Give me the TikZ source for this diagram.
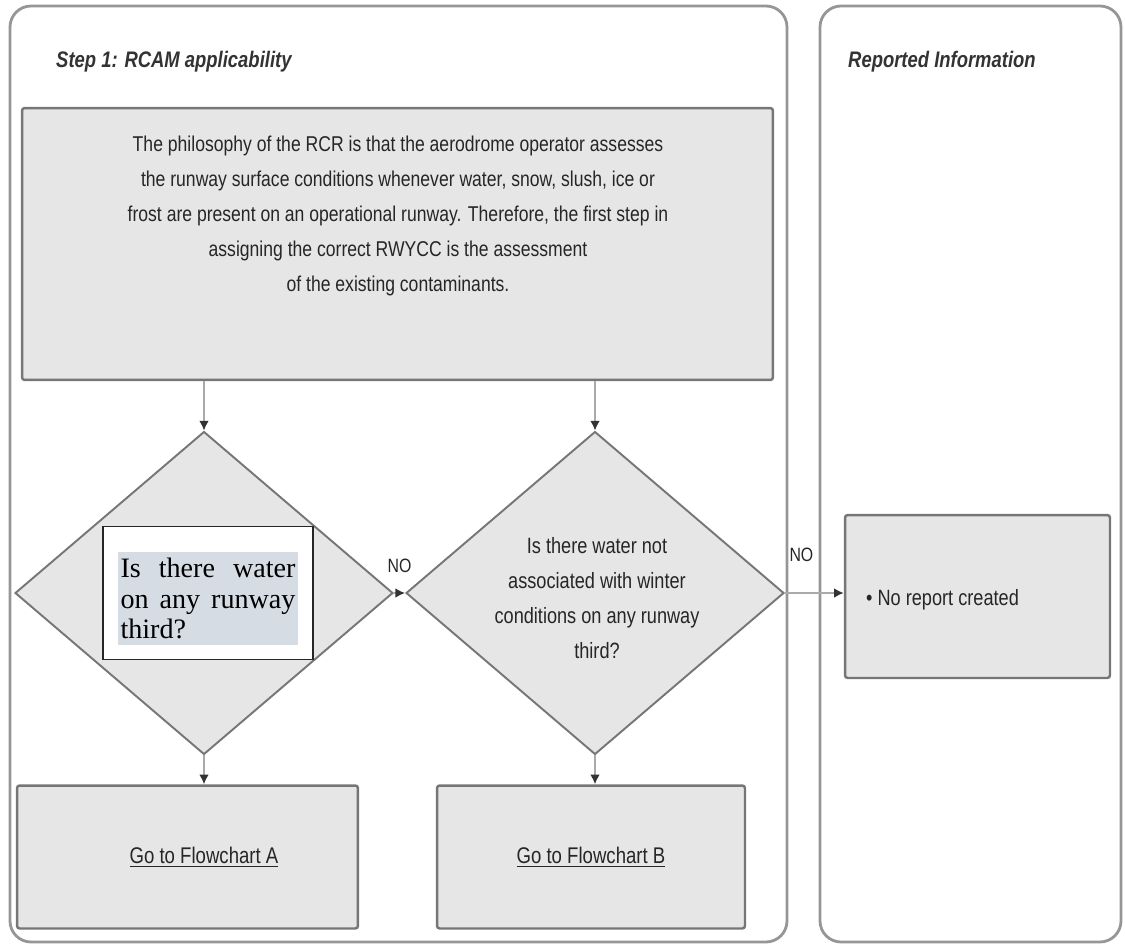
\documentclass[tikz,border=0pt]{standalone}
\usepackage{fontspec}
\setmainfont{Liberation Serif}
\setsansfont[FakeStretch=0.82]{Liberation Sans}
\usetikzlibrary{arrows.meta,positioning,shapes.geometric}
\definecolor{boxfill}{RGB}{230,230,230}
\definecolor{boxline}{RGB}{118,118,118}
\definecolor{panelline}{RGB}{150,150,150}
\definecolor{arrowgray}{RGB}{170,170,170}
\definecolor{hilite}{RGB}{214,220,228}
\tikzset{
  panel/.style={draw=panelline, rounded corners=12pt, line width=1.6pt},
  box/.style={draw=boxline, fill=boxfill, line width=1.4pt, rounded corners=1.5pt, inner sep=0pt},
  decision/.style={diamond, draw=boxline, fill=boxfill, line width=1.1pt, inner sep=0pt,
    minimum width=7.56cm, minimum height=6.46cm},
  flow/.style={draw=arrowgray, line width=1pt, -{Latex[length=5.5pt,width=5.5pt,color=black!80]}},
  txt/.style={font=\sffamily\fontsize{12.2}{20}\selectfont, align=center, text=black!85},
  bigtxt/.style={font=\sffamily\fontsize{12.9}{20}\selectfont, align=center, text=black!85},
  heading/.style={font=\sffamily\bfseries\itshape\fontsize{12.8}{14}\selectfont, anchor=west, text=black!80},
  nolabel/.style={font=\sffamily\fontsize{11}{12}\selectfont, text=black!85}
}
\begin{document}
\begin{tikzpicture}[x=0.02cm, y=-0.02cm]
  \useasboundingbox (0,0) rectangle (1125,946);
  % panels
  \draw[panel] (10,6) rectangle (787,942);
  \draw[panel] (820,6) rectangle (1121,942);
  \node[heading] (stepHead) at (50,62) {Step 1: RCAM applicability};
  \node[heading] (repHead) at (842,62) {Reported Information};
  % boxes
  \node[box, minimum width=15.02cm, minimum height=5.44cm] (philo) at (397.5,244) {};
  \node[txt] (philoText) at (398,216) {The philosophy of the RCR is that the aerodrome operator assesses\\
    the runway surface conditions whenever water, snow, slush, ice or\\
    frost are present on an operational runway. Therefore, the first step in\\
    assigning the correct RWYCC is the assessment\\
    of the existing contaminants.};
  \node[decision] (water) at (204,593) {};
  \node[decision] (winter) at (595,593) {};
  \node[bigtxt, font=\sffamily\fontsize{12.6}{19.8}\selectfont] (winterText) at (597,598)
    {Is there water not\\ associated with winter\\ conditions on any runway\\ third?};
  \node[box, minimum width=5.3cm, minimum height=3.26cm] (none) at (977.5,596.5) {};
  \node[txt, anchor=west, font=\sffamily\fontsize{12.6}{16}\selectfont] (noneText) at (860,600) {\textbullet\ No report created};
  \node[box, minimum width=6.82cm, minimum height=2.86cm] (chartA) at (187.5,857) {};
  \node[box, minimum width=6.16cm, minimum height=2.86cm] (chartB) at (591,857) {};
  \node[bigtxt] (goA) at (water |- chartA) {\underline{Go to Flowchart A}};
  \node[bigtxt] (goB) at (chartB) {\underline{Go to Flowchart B}};
  % overlay question
  \node[draw=black!85, fill=white, line width=0.8pt, minimum width=4.2cm, minimum height=2.66cm] (askBox) at (208,593) {};
  \node[fill=hilite, inner xsep=1.5pt, inner ysep=3.2pt, text width=3.5cm, align=justify,
    font=\fontsize{16}{17.6}\selectfont] (askText) at (208,598.5)
    {Is there water on any runway third?};
  % connectors
  \draw[flow] (philo.south -| water.north) -- (water.north);
  \draw[flow] (philo.south -| winter.north) -- (winter.north);
  \draw[flow] (water.east) -- node[nolabel, above=8pt] (noA) {NO} (winter.west);
  \draw[flow] (winter.east) -- node[nolabel, above=14pt, pos=0.28] (noB) {NO} (winter.east -| none.west);
  \draw[flow] (water.south) -- (water.south |- chartA.north);
  \draw[flow] (winter.south) -- (winter.south |- chartB.north);
\end{tikzpicture}
\end{document}
